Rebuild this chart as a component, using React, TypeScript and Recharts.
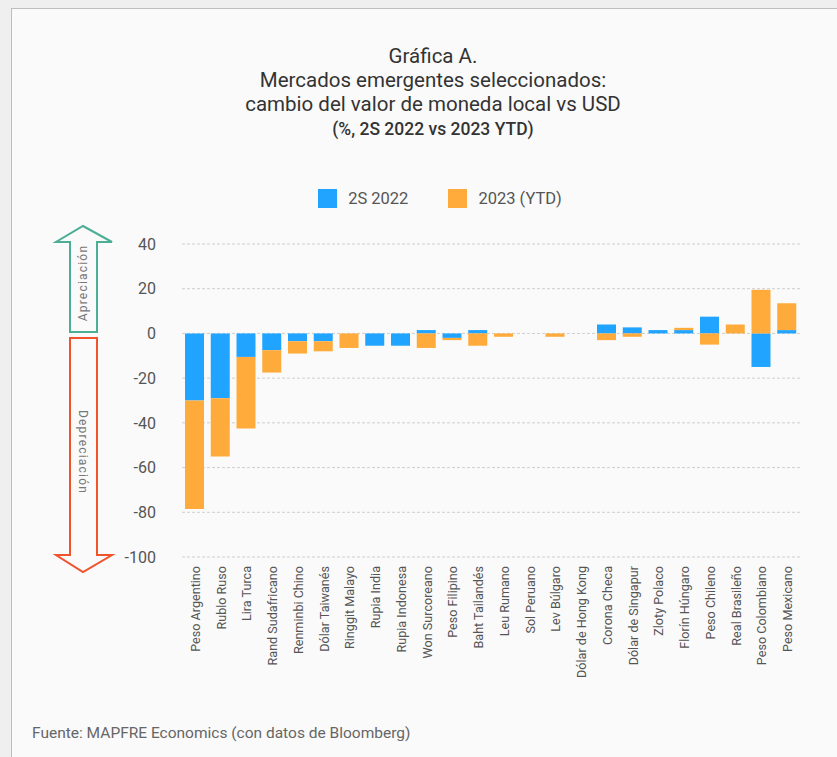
import React from 'react';
import { BarChart, Bar, XAxis, YAxis, CartesianGrid } from 'recharts';

const CATEGORIES = [
  'Peso Argentino', 'Rublo Ruso', 'Lira Turca', 'Rand Sudafricano', 'Renminbi Chino',
  'Dólar Taiwanés', 'Ringgit Malayo', 'Rupia India', 'Rupia Indonesa', 'Won Surcoreano',
  'Peso Filipino', 'Baht Tailandés', 'Leu Rumano', 'Sol Peruano', 'Lev Búlgaro',
  'Dólar de Hong Kong', 'Corona Checa', 'Dólar de Singapur', 'Zloty Polaco', 'Florín Húngaro',
  'Peso Chileno', 'Real Brasileño', 'Peso Colombiano', 'Peso Mexicano',
];

const S2_2022 = [-30, -29, -10.5, -7.5, -3.5, -3.5, 0, -5.5, -5.5, 1.5, -2, 1.5, 0, 0, 0, 0, 4, 2.7, 1.5, 1.5, 7.5, 0, -15, 1.5];
const YTD_2023 = [-48.5, -26, -32, -10, -5.5, -4.5, -6.5, 0, 0, -6.5, -1, -5.5, -1.5, 0, -1.5, 0, -3, -1.5, 0, 1, -5, 4, 19.5, 12];

const Y_TICKS = [-100, -80, -60, -40, -20, 0, 20, 40];

const SERIES = [
  { key: 's2022', name: '2S 2022', color: '#20a4ff' },
  { key: 'ytd2023', name: '2023 (YTD)', color: '#ffab3b' },
];

const FONT = 'Roboto, "DejaVu Sans", sans-serif';
const TEXT = '#555';

const data = CATEGORIES.map((name, i) => ({ name, s2022: S2_2022[i], ytd2023: YTD_2023[i] }));

const XTick = (props: any) => {
  const { x, y, payload } = props;
  return (
    <text
      x={x + 5}
      y={y}
      transform={`rotate(-90, ${x + 5}, ${y})`}
      textAnchor="end"
      fontSize={12.6}
      fill={TEXT}
      fontFamily={FONT}
    >
      {payload.value}
    </text>
  );
};

const Arrows = () => (
  <svg width={130} height={360} style={{ position: 'absolute', left: 0, top: 220 }}>
    <polygon
      points="83,6 112,22 97,22 97,112 70,112 70,22 56,22"
      fill="none"
      stroke="#4dae96"
      strokeWidth={2}
    />
    <text
      x={83}
      y={63}
      transform="rotate(-90, 83, 63)"
      textAnchor="middle"
      dominantBaseline="central"
      fontSize={12}
      letterSpacing={1.2}
      fill="#777"
      fontFamily={FONT}
    >
      Apreciación
    </text>
    <polygon
      points="70,118 97,118 97,335 112,335 83,352 56,335 70,335"
      fill="none"
      stroke="#f1532c"
      strokeWidth={2}
    />
    <text
      x={83}
      y={232}
      transform="rotate(90, 83, 232)"
      textAnchor="middle"
      dominantBaseline="central"
      fontSize={12}
      letterSpacing={1.2}
      fill="#777"
      fontFamily={FONT}
    >
      Depreciación
    </text>
  </svg>
);

export default function App() {
  return (
    <div style={{ position: 'absolute', left: 0, top: 0, width: 837, height: 757, background: '#efefef', overflow: 'hidden' }}>
      <div
        style={{
          position: 'absolute', left: 11, top: 8, right: 0, bottom: 0,
          background: '#fafafa', borderLeft: '1px solid #bdbdbd', borderTop: '1px solid #bdbdbd',
        }}
      />
      <div
        style={{
          position: 'absolute', left: 0, top: 44, width: 866, textAlign: 'center',
          fontFamily: FONT, color: '#333', fontWeight: 400, fontSize: 20.5, lineHeight: '24px',
        }}
      >
        <div>Gráfica A.</div>
        <div>Mercados emergentes seleccionados:</div>
        <div>cambio del valor de moneda local vs USD</div>
        <div style={{ fontSize: 17.5, marginTop: 1, fontWeight: 500 }}>(%, 2S 2022 vs 2023 YTD)</div>
      </div>
      <div
        style={{
          position: 'absolute', left: 0, top: 189, width: 880, display: 'flex',
          justifyContent: 'center', gap: 40, fontFamily: FONT,
        }}
      >
        {SERIES.map((s) => (
          <div key={s.key} style={{ display: 'flex', alignItems: 'center' }}>
            <span style={{ width: 19, height: 19, background: s.color, display: 'inline-block', marginRight: 11 }} />
            <span style={{ fontSize: 16.5, color: TEXT }}>{s.name}</span>
          </div>
        ))}
      </div>
      <div style={{ position: 'absolute', left: 0, top: 0 }}>
        <BarChart
          width={837}
          height={757}
          data={data}
          stackOffset="sign"
          margin={{ top: 244, right: 37, bottom: 170, left: 100 }}
        >
          <CartesianGrid vertical={false} stroke="#cfcfcf" strokeDasharray="3 2" />
          <XAxis
            dataKey="name"
            interval={0}
            axisLine={false}
            tickLine={false}
            tick={<XTick />}
            tickMargin={3}
            height={30}
          />
          <YAxis
            domain={[-100, 40]}
            ticks={Y_TICKS}
            width={82}
            axisLine={false}
            tickLine={false}
            tickMargin={20}
            tick={{ fontSize: 16, fill: TEXT, fontFamily: FONT }}
          />
          {SERIES.map((s) => (
            <Bar
              key={s.key}
              dataKey={s.key}
              name={s.name}
              stackId="a"
              fill={s.color}
              barSize={19}
              isAnimationActive={false}
            />
          ))}
        </BarChart>
      </div>
      <Arrows />
      <div style={{ position: 'absolute', left: 32, top: 724, fontFamily: FONT, fontSize: 15.5, color: '#666' }}>
        Fuente: MAPFRE Economics (con datos de Bloomberg)
      </div>
    </div>
  );
}
